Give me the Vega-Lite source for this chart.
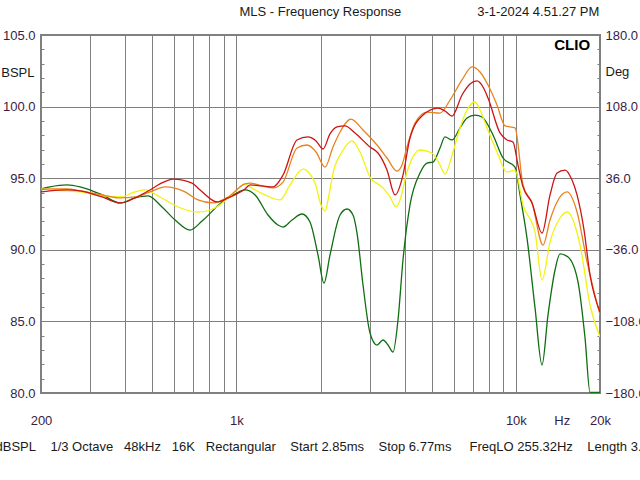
{
  "$schema": "https://vega.github.io/schema/vega-lite/v6.json",
  "width": 559,
  "height": 358,
  "autosize": "none",
  "padding": {"left": 41, "top": 35, "right": 40, "bottom": 87},
  "background": "white",
  "config": {
    "font": "Liberation Sans",
    "view": {"stroke": "#808080", "strokeWidth": 2}
  },
  "datasets": {
    "curves": [
      {"series": "green", "freq": 200, "db": 94.25},
      {"series": "green", "freq": 215, "db": 94.39},
      {"series": "green", "freq": 248, "db": 94.53},
      {"series": "green", "freq": 276, "db": 94.39},
      {"series": "green", "freq": 331, "db": 93.83},
      {"series": "green", "freq": 384, "db": 93.27},
      {"series": "green", "freq": 434, "db": 93.62},
      {"series": "green", "freq": 483, "db": 93.76},
      {"series": "green", "freq": 542, "db": 92.99},
      {"series": "green", "freq": 604, "db": 92.08},
      {"series": "green", "freq": 683, "db": 91.38},
      {"series": "green", "freq": 754, "db": 92.01},
      {"series": "green", "freq": 889, "db": 93.34},
      {"series": "green", "freq": 989, "db": 93.9},
      {"series": "green", "freq": 1074, "db": 94.18},
      {"series": "green", "freq": 1167, "db": 93.83},
      {"series": "green", "freq": 1298, "db": 92.43},
      {"series": "green", "freq": 1409, "db": 91.73},
      {"series": "green", "freq": 1469, "db": 91.59},
      {"series": "green", "freq": 1582, "db": 92.08},
      {"series": "green", "freq": 1717, "db": 92.5},
      {"series": "green", "freq": 1834, "db": 91.94},
      {"series": "green", "freq": 1959, "db": 89.64},
      {"series": "green", "freq": 2058, "db": 87.68},
      {"series": "green", "freq": 2163, "db": 89.64},
      {"series": "green", "freq": 2349, "db": 92.43},
      {"series": "green", "freq": 2488, "db": 92.85},
      {"series": "green", "freq": 2614, "db": 92.43},
      {"series": "green", "freq": 2702, "db": 91.17},
      {"series": "green", "freq": 2839, "db": 87.54},
      {"series": "green", "freq": 3007, "db": 84.19},
      {"series": "green", "freq": 3186, "db": 83.35},
      {"series": "green", "freq": 3347, "db": 83.7},
      {"series": "green", "freq": 3488, "db": 83.35},
      {"series": "green", "freq": 3635, "db": 82.86},
      {"series": "green", "freq": 3787, "db": 85.1},
      {"series": "green", "freq": 3946, "db": 89.29},
      {"series": "green", "freq": 4181, "db": 93.13},
      {"series": "green", "freq": 4540, "db": 95.36},
      {"series": "green", "freq": 4810, "db": 96.06},
      {"series": "green", "freq": 5053, "db": 96.13},
      {"series": "green", "freq": 5353, "db": 97.11},
      {"series": "green", "freq": 5578, "db": 97.88},
      {"series": "green", "freq": 5910, "db": 97.67},
      {"series": "green", "freq": 6312, "db": 98.51},
      {"series": "green", "freq": 6686, "db": 99.2},
      {"series": "green", "freq": 7142, "db": 99.41},
      {"series": "green", "freq": 7567, "db": 99.27},
      {"series": "green", "freq": 8284, "db": 98.02},
      {"series": "green", "freq": 8994, "db": 96.41},
      {"series": "green", "freq": 9930, "db": 95.78},
      {"series": "green", "freq": 10348, "db": 93.83},
      {"series": "green", "freq": 10962, "db": 90.82},
      {"series": "green", "freq": 11710, "db": 85.94},
      {"series": "green", "freq": 12405, "db": 81.96},
      {"series": "green", "freq": 13033, "db": 85.45},
      {"series": "green", "freq": 13808, "db": 88.59},
      {"series": "green", "freq": 14389, "db": 89.71},
      {"series": "green", "freq": 15369, "db": 89.5},
      {"series": "green", "freq": 16689, "db": 87.75},
      {"series": "green", "freq": 17680, "db": 83.84},
      {"series": "green", "freq": 18424, "db": 80.05},
      {"series": "green", "freq": 20000, "db": 80.05},

      {"series": "yellow", "freq": 200, "db": 94.25},
      {"series": "yellow", "freq": 215, "db": 94.18},
      {"series": "yellow", "freq": 248, "db": 94.11},
      {"series": "yellow", "freq": 276, "db": 94.04},
      {"series": "yellow", "freq": 331, "db": 93.76},
      {"series": "yellow", "freq": 384, "db": 93.69},
      {"series": "yellow", "freq": 434, "db": 94.04},
      {"series": "yellow", "freq": 471, "db": 94.18},
      {"series": "yellow", "freq": 533, "db": 93.69},
      {"series": "yellow", "freq": 619, "db": 92.99},
      {"series": "yellow", "freq": 729, "db": 92.64},
      {"series": "yellow", "freq": 839, "db": 92.92},
      {"series": "yellow", "freq": 989, "db": 94.04},
      {"series": "yellow", "freq": 1074, "db": 94.6},
      {"series": "yellow", "freq": 1119, "db": 94.39},
      {"series": "yellow", "freq": 1266, "db": 93.83},
      {"series": "yellow", "freq": 1433, "db": 93.48},
      {"series": "yellow", "freq": 1556, "db": 94.53},
      {"series": "yellow", "freq": 1732, "db": 95.64},
      {"series": "yellow", "freq": 1834, "db": 95.29},
      {"series": "yellow", "freq": 1912, "db": 94.66},
      {"series": "yellow", "freq": 2008, "db": 93.13},
      {"series": "yellow", "freq": 2076, "db": 92.71},
      {"series": "yellow", "freq": 2145, "db": 93.83},
      {"series": "yellow", "freq": 2217, "db": 95.36},
      {"series": "yellow", "freq": 2388, "db": 96.83},
      {"series": "yellow", "freq": 2592, "db": 97.6},
      {"series": "yellow", "freq": 2769, "db": 96.83},
      {"series": "yellow", "freq": 3007, "db": 95.08},
      {"series": "yellow", "freq": 3347, "db": 94.32},
      {"series": "yellow", "freq": 3546, "db": 93.69},
      {"series": "yellow", "freq": 3725, "db": 92.99},
      {"series": "yellow", "freq": 3850, "db": 93.48},
      {"series": "yellow", "freq": 4078, "db": 95.43},
      {"series": "yellow", "freq": 4540, "db": 96.97},
      {"series": "yellow", "freq": 5012, "db": 96.76},
      {"series": "yellow", "freq": 5353, "db": 95.92},
      {"series": "yellow", "freq": 5578, "db": 95.29},
      {"series": "yellow", "freq": 5958, "db": 96.83},
      {"series": "yellow", "freq": 6312, "db": 98.51},
      {"series": "yellow", "freq": 6686, "db": 99.76},
      {"series": "yellow", "freq": 7142, "db": 100.32},
      {"series": "yellow", "freq": 7443, "db": 99.76},
      {"series": "yellow", "freq": 7885, "db": 98.51},
      {"series": "yellow", "freq": 8561, "db": 96.83},
      {"series": "yellow", "freq": 9297, "db": 95.43},
      {"series": "yellow", "freq": 9930, "db": 95.57},
      {"series": "yellow", "freq": 10607, "db": 93.13},
      {"series": "yellow", "freq": 11710, "db": 91.24},
      {"series": "yellow", "freq": 12405, "db": 87.89},
      {"series": "yellow", "freq": 13250, "db": 90.54},
      {"series": "yellow", "freq": 14389, "db": 92.22},
      {"series": "yellow", "freq": 15243, "db": 92.64},
      {"series": "yellow", "freq": 16966, "db": 90.33},
      {"series": "yellow", "freq": 18424, "db": 86.15},
      {"series": "yellow", "freq": 20000, "db": 83.91},

      {"series": "orange", "freq": 200, "db": 94.18},
      {"series": "orange", "freq": 215, "db": 94.25},
      {"series": "orange", "freq": 248, "db": 94.25},
      {"series": "orange", "freq": 276, "db": 94.11},
      {"series": "orange", "freq": 331, "db": 93.83},
      {"series": "orange", "freq": 384, "db": 93.62},
      {"series": "orange", "freq": 434, "db": 93.69},
      {"series": "orange", "freq": 491, "db": 94.04},
      {"series": "orange", "freq": 556, "db": 94.39},
      {"series": "orange", "freq": 655, "db": 94.04},
      {"series": "orange", "freq": 729, "db": 93.48},
      {"series": "orange", "freq": 825, "db": 93.27},
      {"series": "orange", "freq": 934, "db": 93.69},
      {"series": "orange", "freq": 1074, "db": 94.6},
      {"series": "orange", "freq": 1119, "db": 94.66},
      {"series": "orange", "freq": 1235, "db": 94.46},
      {"series": "orange", "freq": 1352, "db": 94.32},
      {"series": "orange", "freq": 1469, "db": 94.73},
      {"series": "orange", "freq": 1648, "db": 97.11},
      {"series": "orange", "freq": 1789, "db": 97.32},
      {"series": "orange", "freq": 1928, "db": 96.83},
      {"series": "orange", "freq": 2076, "db": 95.78},
      {"series": "orange", "freq": 2217, "db": 97.18},
      {"series": "orange", "freq": 2349, "db": 98.23},
      {"series": "orange", "freq": 2571, "db": 99.13},
      {"series": "orange", "freq": 2839, "db": 98.37},
      {"series": "orange", "freq": 3186, "db": 97.32},
      {"series": "orange", "freq": 3459, "db": 96.41},
      {"series": "orange", "freq": 3756, "db": 95.5},
      {"series": "orange", "freq": 3914, "db": 95.92},
      {"series": "orange", "freq": 4078, "db": 97.18},
      {"series": "orange", "freq": 4357, "db": 98.85},
      {"series": "orange", "freq": 4810, "db": 99.62},
      {"series": "orange", "freq": 5353, "db": 99.55},
      {"series": "orange", "freq": 5813, "db": 100.46},
      {"series": "orange", "freq": 6417, "db": 101.86},
      {"series": "orange", "freq": 6968, "db": 102.77},
      {"series": "orange", "freq": 7443, "db": 102.42},
      {"series": "orange", "freq": 7950, "db": 101.51},
      {"series": "orange", "freq": 8561, "db": 100.11},
      {"series": "orange", "freq": 9145, "db": 98.65},
      {"series": "orange", "freq": 9930, "db": 98.51},
      {"series": "orange", "freq": 10607, "db": 94.53},
      {"series": "orange", "freq": 11424, "db": 93.27},
      {"series": "orange", "freq": 12507, "db": 90.33},
      {"series": "orange", "freq": 13250, "db": 92.08},
      {"series": "orange", "freq": 14037, "db": 93.34},
      {"series": "orange", "freq": 15243, "db": 94.04},
      {"series": "orange", "freq": 16553, "db": 92.64},
      {"series": "orange", "freq": 17974, "db": 89.15},
      {"series": "orange", "freq": 20000, "db": 85.45},

      {"series": "red", "freq": 200, "db": 94.04},
      {"series": "red", "freq": 215, "db": 94.11},
      {"series": "red", "freq": 248, "db": 94.18},
      {"series": "red", "freq": 276, "db": 94.11},
      {"series": "red", "freq": 331, "db": 93.69},
      {"series": "red", "freq": 384, "db": 93.27},
      {"series": "red", "freq": 434, "db": 93.62},
      {"series": "red", "freq": 491, "db": 94.18},
      {"series": "red", "freq": 533, "db": 94.6},
      {"series": "red", "freq": 594, "db": 94.94},
      {"series": "red", "freq": 694, "db": 94.66},
      {"series": "red", "freq": 742, "db": 94.18},
      {"series": "red", "freq": 853, "db": 93.34},
      {"series": "red", "freq": 934, "db": 93.62},
      {"series": "red", "freq": 1074, "db": 94.25},
      {"series": "red", "freq": 1119, "db": 94.53},
      {"series": "red", "freq": 1235, "db": 94.46},
      {"series": "red", "freq": 1352, "db": 94.39},
      {"series": "red", "freq": 1469, "db": 95.22},
      {"series": "red", "freq": 1648, "db": 97.67},
      {"series": "red", "freq": 1804, "db": 97.88},
      {"series": "red", "freq": 1928, "db": 97.6},
      {"series": "red", "freq": 2042, "db": 97.04},
      {"series": "red", "freq": 2163, "db": 98.09},
      {"series": "red", "freq": 2291, "db": 98.58},
      {"series": "red", "freq": 2447, "db": 98.65},
      {"series": "red", "freq": 2658, "db": 98.16},
      {"series": "red", "freq": 3007, "db": 97.18},
      {"series": "red", "freq": 3212, "db": 96.76},
      {"series": "red", "freq": 3459, "db": 95.57},
      {"series": "red", "freq": 3695, "db": 93.83},
      {"series": "red", "freq": 3946, "db": 95.22},
      {"series": "red", "freq": 4181, "db": 97.81},
      {"series": "red", "freq": 4654, "db": 99.41},
      {"series": "red", "freq": 5265, "db": 99.9},
      {"series": "red", "freq": 5578, "db": 99.69},
      {"series": "red", "freq": 5910, "db": 99.34},
      {"series": "red", "freq": 6417, "db": 100.81},
      {"series": "red", "freq": 6854, "db": 101.58},
      {"series": "red", "freq": 7261, "db": 101.79},
      {"series": "red", "freq": 7629, "db": 101.37},
      {"series": "red", "freq": 7950, "db": 100.6},
      {"series": "red", "freq": 8775, "db": 98.16},
      {"series": "red", "freq": 9297, "db": 97.67},
      {"series": "red", "freq": 9767, "db": 97.53},
      {"series": "red", "freq": 10178, "db": 95.92},
      {"series": "red", "freq": 10607, "db": 94.39},
      {"series": "red", "freq": 11424, "db": 93.27},
      {"series": "red", "freq": 12405, "db": 91.17},
      {"series": "red", "freq": 13250, "db": 93.83},
      {"series": "red", "freq": 14037, "db": 95.36},
      {"series": "red", "freq": 14994, "db": 95.57},
      {"series": "red", "freq": 15885, "db": 94.87},
      {"series": "red", "freq": 16553, "db": 93.83},
      {"series": "red", "freq": 17535, "db": 91.38},
      {"series": "red", "freq": 18424, "db": 88.24},
      {"series": "red", "freq": 20000, "db": 85.66}
    ]
  },
  "layer": [
    {
      "data": {"name": "curves"},
      "mark": {"type": "line", "interpolate": "monotone", "strokeWidth": 1.3, "clip": true},
      "encoding": {
        "x": {
          "field": "freq",
          "type": "quantitative",
          "scale": {"type": "log", "domain": [200, 20000], "nice": false},
          "axis": {
            "orient": "bottom",
            "values": [200, 300, 400, 500, 600, 700, 800, 900, 1000, 2000, 3000, 4000, 5000, 6000, 7000, 8000, 9000, 10000, 14600, 20000],
            "grid": true,
            "gridColor": "#808080",
            "gridWidth": 1,
            "gridOpacity": {"condition": {"test": "datum.value == 14600", "value": 0}, "value": 1},
            "domain": false,
            "ticks": false,
            "labelExpr": "datum.value == 200 ? '200' : datum.value == 1000 ? '1k' : datum.value == 10000 ? '10k' : datum.value == 14600 ? 'Hz' : datum.value == 20000 ? '20k' : ''",
            "labelFlush": false,
            "labelOverlap": false,
            "labelPadding": 27,
            "labelBaseline": "middle",
            "labelFontSize": 13,
            "labelFont": "Liberation Sans",
            "labelColor": "#3a1c44",
            "title": "dBSPL\u00a0\u00a0\u00a0\u00a01/3 Octave\u00a0\u00a0\u00a048kHz\u00a0\u00a0\u00a016K\u00a0\u00a0\u00a0Rectangular\u00a0\u00a0\u00a0\u00a0Start 2.85ms\u00a0\u00a0\u00a0\u00a0Stop 6.77ms\u00a0\u00a0\u00a0\u00a0\u00a0FreqLO 255.32Hz\u00a0\u00a0\u00a0\u00a0Length 3.92ms",
            "titleFont": "Liberation Sans",
            "titleFontSize": 13,
            "titleFontWeight": "normal",
            "titleColor": "#1a1a1a",
            "titleAlign": "left",
            "titleAnchor": "start",
            "titleBaseline": "middle",
            "titleX": -46,
            "titleY": 53
          }
        },
        "y": {
          "field": "db",
          "type": "quantitative",
          "scale": {"domain": [80, 105], "nice": false, "zero": false},
          "axis": {
            "orient": "left",
            "values": [80, 81, 82, 83, 84, 85, 86, 87, 88, 89, 90, 91, 92, 93, 94, 95, 96, 97, 98, 99, 100, 101, 102, 103, 104, 105],
            "grid": true,
            "gridColor": "#808080",
            "gridWidth": 1,
            "gridOpacity": {"condition": {"test": "datum.value % 5 === 0", "value": 1}, "value": 0},
            "domain": false,
            "ticks": true,
            "tickSize": -3,
            "tickColor": "#808080",
            "labelExpr": "datum.value % 5 === 0 ? format(datum.value, '.1f') : ''",
            "labelFlush": false,
            "labelOverlap": false,
            "labelPadding": 9,
            "labelFontSize": 13,
            "labelFont": "Liberation Sans",
            "labelColor": "#3a1c44",
            "title": "BSPL",
            "titleFont": "Liberation Sans",
            "titleFontSize": 13,
            "titleFontWeight": "normal",
            "titleColor": "#1a1a1a",
            "titleAngle": 0,
            "titleAlign": "right",
            "titleBaseline": "middle",
            "titleX": -7,
            "titleY": 37
          }
        },
        "color": {
          "field": "series",
          "type": "nominal",
          "scale": {"domain": ["green", "yellow", "orange", "red"], "range": ["#0f6e0f", "#f2f20f", "#e8821e", "#cc1414"]},
          "legend": null
        }
      }
    },
    {
      "data": {"values": [{"label": "CLIO"}]},
      "mark": {"type": "text", "fontWeight": "bold", "fontSize": 15, "font": "Liberation Sans", "align": "center", "baseline": "middle", "color": "#000000"},
      "encoding": {
        "x": {
          "datum": 15900,
          "type": "quantitative",
          "axis": {
            "orient": "top",
            "labels": false,
            "ticks": false,
            "grid": false,
            "domain": false,
            "title": "MLS - Frequency Response\u00a0\u00a0\u00a0\u00a0\u00a0\u00a0\u00a0\u00a0\u00a0\u00a0\u00a0\u00a0\u00a0\u00a0\u00a0\u00a0\u00a0\u00a0\u00a0\u00a0\u00a03-1-2024 4.51.27 PM",
            "titleFont": "Liberation Sans",
            "titleFontSize": 13,
            "titleFontWeight": "normal",
            "titleColor": "#1a1a1a",
            "titleAlign": "left",
            "titleAnchor": "start",
            "titleBaseline": "middle",
            "titleX": 198,
            "titleY": -24
          }
        },
        "y": {
          "datum": 104.3,
          "type": "quantitative",
          "axis": {
            "orient": "right",
            "values": [80, 81, 82, 83, 84, 85, 86, 87, 88, 89, 90, 91, 92, 93, 94, 95, 96, 97, 98, 99, 100, 101, 102, 103, 104, 105],
            "grid": false,
            "domain": false,
            "ticks": true,
            "tickSize": -3,
            "tickColor": "#808080",
            "labelExpr": "datum.value % 5 === 0 ? format((datum.value - 92.5) * 14.4, '.1f') : ''",
            "labelFlush": false,
            "labelOverlap": false,
            "labelPadding": 8,
            "labelFontSize": 13,
            "labelFont": "Liberation Sans",
            "labelColor": "#3a1c44",
            "title": "Deg",
            "titleFont": "Liberation Sans",
            "titleFontSize": 13,
            "titleFontWeight": "normal",
            "titleColor": "#1a1a1a",
            "titleAngle": 0,
            "titleAlign": "left",
            "titleBaseline": "middle",
            "titleX": 5,
            "titleY": 36
          }
        },
        "text": {"field": "label"}
      }
    }
  ],
  "resolve": {"axis": {"x": "independent", "y": "independent"}}
}
